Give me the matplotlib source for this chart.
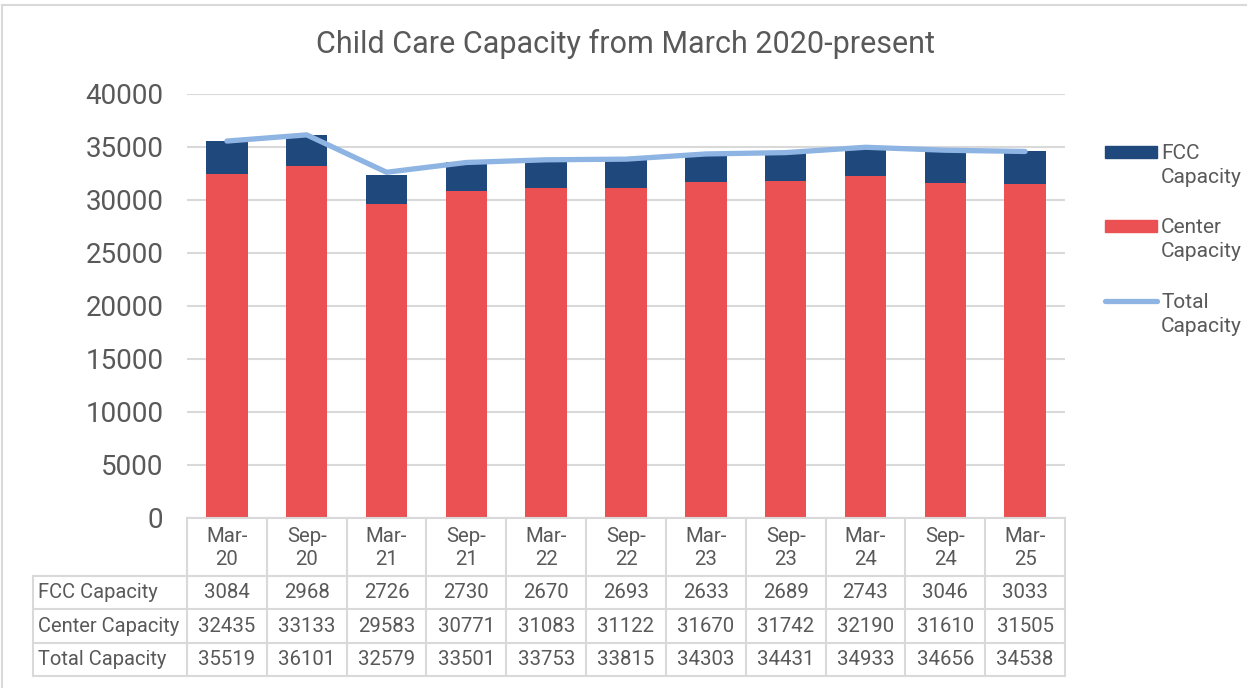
import matplotlib
matplotlib.use('Agg')
import matplotlib.pyplot as plt
from matplotlib.lines import Line2D
from matplotlib.patches import Rectangle
import numpy as np

plt.rcParams['font.family'] = ['Roboto', 'DejaVu Sans']

# capacity counts, March 2020 to March 2025 (every six months)
periods = ['Mar-20', 'Sep-20', 'Mar-21', 'Sep-21', 'Mar-22', 'Sep-22',
           'Mar-23', 'Sep-23', 'Mar-24', 'Sep-24', 'Mar-25']
fcc_capacity = [3084, 2968, 2726, 2730, 2670, 2693, 2633, 2689, 2743, 3046, 3033]
center_capacity = [32435, 33133, 29583, 30771, 31083, 31122, 31670, 31742,
                   32190, 31610, 31505]
total_capacity = [35519, 36101, 32579, 33501, 33753, 33815, 34303, 34431,
                  34933, 34656, 34538]
row_labels = ['FCC Capacity', 'Center Capacity', 'Total Capacity']

FCC_COLOR = '#1F497D'
CENTER_COLOR = '#EB5153'
TOTAL_COLOR = '#8DB4E2'
TEXT_COLOR = '#595959'
GRID_COLOR = '#D9D9D9'

W, H = 1247, 688


def fx(px):
    return px / W


def fy(py):
    return 1 - py / H


fig = plt.figure(figsize=(W / 100, H / 100), dpi=100)

# plot area
left, right, top, bottom = 187, 1065, 93.5, 518
ax = fig.add_axes([fx(left), fy(bottom), fx(right) - fx(left), fy(top) - fy(bottom)])
x = np.arange(len(periods))
ax.bar(x, center_capacity, width=0.52, color=CENTER_COLOR, zorder=2)
ax.bar(x, fcc_capacity, width=0.52, bottom=center_capacity, color=FCC_COLOR, zorder=2)
ax.plot(x, total_capacity, color=TOTAL_COLOR, lw=3.8, solid_capstyle='round',
        solid_joinstyle='round', zorder=3)
ax.set_xlim(-0.5, len(periods) - 0.5)
ax.set_ylim(0, 40000)
ax.set_yticks(range(0, 40001, 5000))
ax.yaxis.grid(True, color=GRID_COLOR, lw=1.5)
ax.set_axisbelow(True)
ax.set_xticks([])
ax.tick_params(axis='y', length=0, pad=17, labelsize=20, labelcolor=TEXT_COLOR)
for s in ['top', 'right', 'left']:
    ax.spines[s].set_visible(False)
ax.spines['bottom'].set_color(GRID_COLOR)
ax.spines['bottom'].set_linewidth(1.5)

# data table underneath, columns lined up with the categories
tbl_left, tbl_bottom = 33, 676
row_edges = [518, 576, 609, 642.5, 676]
col_w = (right - left) / len(periods)
x_min = -0.5 - (left - tbl_left) / col_w
tax = fig.add_axes([fx(tbl_left), fy(tbl_bottom), fx(right) - fx(tbl_left),
                    fy(bottom) - fy(tbl_bottom)])
tax.set_xlim(x_min, len(periods) - 0.5)
tax.set_ylim(tbl_bottom, bottom)
tax.axis('off')

line_kw = dict(color=GRID_COLOR, lw=1.5, clip_on=False)
for k in range(len(periods) + 1):
    tax.plot([k - 0.5, k - 0.5], [row_edges[0], row_edges[-1]], **line_kw)
tax.plot([x_min, x_min], [row_edges[1], row_edges[-1]], **line_kw)
for yy in row_edges[1:]:
    tax.plot([x_min, len(periods) - 0.5], [yy, yy], **line_kw)

for i, p in enumerate(periods):
    mon, yr = p.split('-')
    tax.text(i, (row_edges[0] + row_edges[1]) / 2 + 1, mon + '-\n' + yr,
             ha='center', va='center', fontsize=14.7, color=TEXT_COLOR,
             linespacing=1.3)
rows = [fcc_capacity, center_capacity, total_capacity]
for r, (label, vals) in enumerate(zip(row_labels, rows)):
    yc = (row_edges[r + 1] + row_edges[r + 2]) / 2 + 0.5
    tax.text(x_min + 5 / col_w, yc, label, ha='left', va='center',
             fontsize=14.5, color=TEXT_COLOR)
    for i, v in enumerate(vals):
        tax.text(i, yc, str(v), ha='center', va='center', fontsize=14.7,
                 color=TEXT_COLOR)

# title
fig.text(fx(625.5), fy(44), 'Child Care Capacity from March 2020-present',
         ha='center', va='center', fontsize=22, color=TEXT_COLOR)

# legend
legend_items = [('FCC\nCapacity', FCC_COLOR, 'bar', 152),
                ('Center\nCapacity', CENTER_COLOR, 'bar', 226),
                ('Total\nCapacity', TOTAL_COLOR, 'line', 301)]
for label, color, kind, yy in legend_items:
    if kind == 'bar':
        fig.add_artist(Rectangle((fx(1105), fy(yy + 5.5)), fx(52), 11 / H,
                                 color=color, transform=fig.transFigure))
    else:
        fig.add_artist(Line2D([fx(1105), fx(1157)], [fy(yy), fy(yy)],
                              color=color, lw=3.8, solid_capstyle='round',
                              transform=fig.transFigure))
    fig.text(fx(1161), fy(yy - 8), label, ha='left', va='top', fontsize=15,
             color=TEXT_COLOR, linespacing=1.35)

# chart border
fig.add_artist(Line2D([fx(1.5), fx(1.5)], [0, fy(5)], color=GRID_COLOR, lw=1.5,
                      transform=fig.transFigure))
fig.add_artist(Line2D([fx(1.5), 1], [fy(5), fy(5)], color=GRID_COLOR, lw=1.5,
                      transform=fig.transFigure))

fig.savefig('out.png', dpi=100)
